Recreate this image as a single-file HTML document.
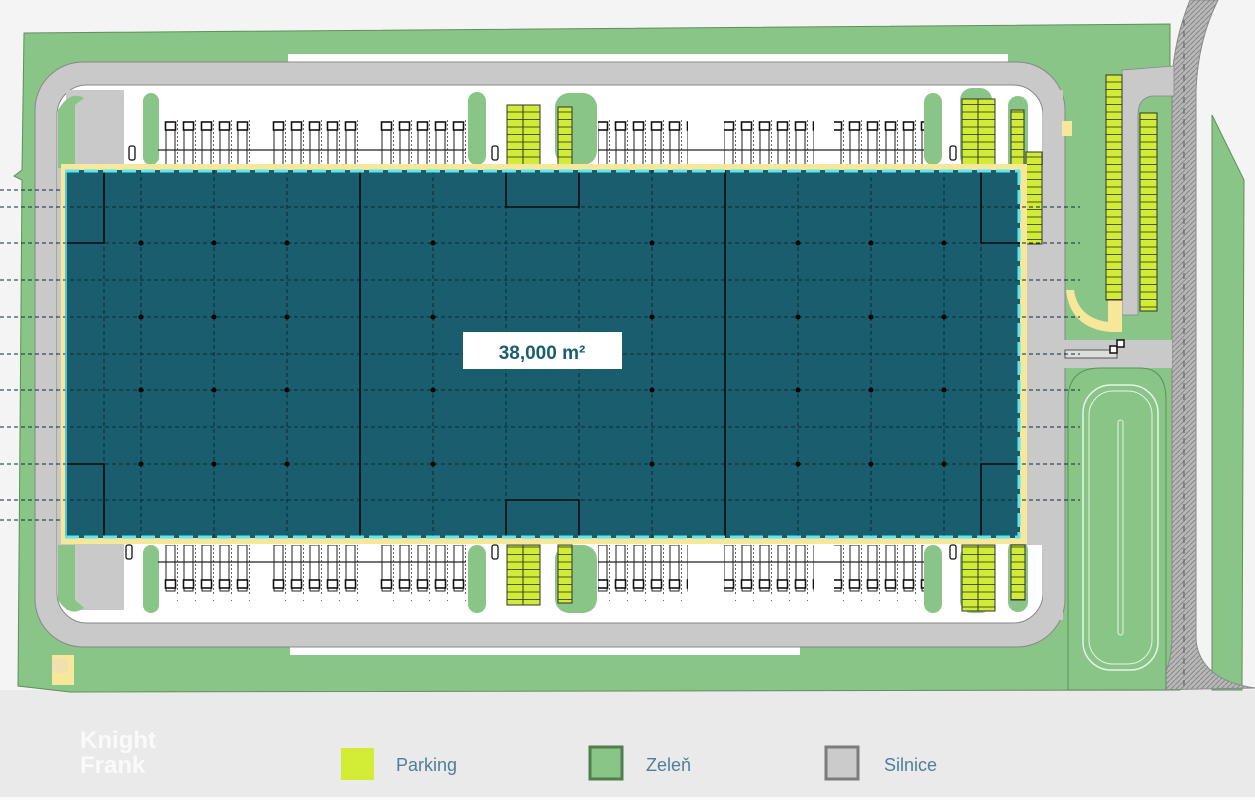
<!DOCTYPE html>
<html><head><meta charset="utf-8"><style>
html,body{margin:0;padding:0;background:#ececec;}
svg{display:block;}
</style></head><body>
<svg width="1255" height="800" viewBox="0 0 1255 800" xmlns="http://www.w3.org/2000/svg">
<defs>
<pattern id="dock" width="18" height="60" patternUnits="userSpaceOnUse">
<rect x="4" y="4" width="9" height="46" fill="#fff" stroke="#222" stroke-width="1"/>
<rect x="3.5" y="2" width="10" height="8" fill="#fff" stroke="#111" stroke-width="1.6"/>
<line x1="15.5" y1="0" x2="15.5" y2="50" stroke="#666" stroke-dasharray="2,2"/>
</pattern>
<pattern id="dockb" width="18" height="60" patternUnits="userSpaceOnUse">
<rect x="4" y="5" width="9" height="46" fill="#fff" stroke="#222" stroke-width="1"/>
<rect x="3.5" y="40" width="10" height="8" fill="#fff" stroke="#111" stroke-width="1.6"/>
<line x1="15.5" y1="0" x2="15.5" y2="55" stroke="#666" stroke-dasharray="2,2"/>
</pattern>
<pattern id="park" width="16" height="7.5" patternUnits="userSpaceOnUse">
<rect width="16" height="7.5" fill="#d2ea38"/>
<line x1="0" y1="7" x2="16" y2="7" stroke="#4a5a10" stroke-width="1"/>
</pattern>
<pattern id="hatch" width="5" height="5" patternUnits="userSpaceOnUse">
<rect width="5" height="5" fill="#b8b8b8"/>
<path d="M0 5 L5 0" stroke="#888" stroke-width="1"/>
</pattern>
</defs>
<rect width="1255" height="800" fill="#f4f4f4"/>
<rect y="690" width="1255" height="110" fill="#eaeaea"/>
<!-- outer green -->
<path d="M24 33 L1170 24 L1170 72 L1180 72 L1180 690 L70 692 L18 686 L22 180 L14 176 L22 170 Z" fill="#88c586" stroke="#5f8f5c" stroke-width="1"/>
<rect x="288" y="54" width="720" height="8" fill="#fff"/>
<rect x="290" y="647" width="510" height="8" fill="#fff"/>
<!-- right green strip -->
<path d="M1212 115 L1244 180 L1242 690 L1212 690 Z" fill="#88c586" stroke="#5f8f5c"/>
<!-- highway hatched -->
<path d="M1190 0 L1218 0 Q1198 40 1196 90 L1196 640 Q1200 680 1255 688 L1150 690 Q1170 680 1172 640 L1172 80 Q1174 40 1190 0 Z" fill="url(#hatch)" stroke="#888"/>
<line x1="1184" y1="20" x2="1184" y2="690" stroke="#555" stroke-dasharray="6,5"/>
<!-- ring road -->
<rect x="35" y="62" width="1030" height="585" rx="48" fill="#c9c9c9" stroke="#888" stroke-width="1"/>
<rect x="57" y="85" width="986" height="538" rx="30" fill="#fff" stroke="#888" stroke-width="1"/>
<!-- left/right gray apron -->
<rect x="58" y="165" width="8" height="380" fill="#c9c9c9"/>
<rect x="1024" y="165" width="19" height="380" fill="#c9c9c9"/>
<rect x="1043" y="90" width="20" height="530" fill="#c9c9c9"/>
<rect x="66" y="90" width="58" height="78" fill="#c9c9c9"/>
<rect x="66" y="540" width="58" height="70" fill="#c9c9c9"/>
<!-- green islands -->
<path d="M58 110 Q70 90 84 98 L75 105 L75 168 L58 168 Z" fill="#88c586"/>
<path d="M58 545 L75 545 L75 600 L84 608 Q70 618 58 600 Z" fill="#88c586"/>
<rect x="143" y="93" width="16" height="72" rx="8" fill="#88c586"/>
<rect x="143" y="545" width="16" height="68" rx="8" fill="#88c586"/>
<rect x="468" y="92" width="18" height="73" rx="9" fill="#88c586"/>
<rect x="468" y="545" width="18" height="68" rx="9" fill="#88c586"/>
<rect x="555" y="93" width="42" height="72" rx="14" fill="#88c586"/>
<rect x="555" y="545" width="42" height="68" rx="14" fill="#88c586"/>
<rect x="924" y="93" width="18" height="72" rx="9" fill="#88c586"/>
<rect x="924" y="545" width="18" height="68" rx="9" fill="#88c586"/>
<rect x="960" y="88" width="32" height="80" rx="12" fill="#88c586"/>
<rect x="960" y="545" width="32" height="68" rx="12" fill="#88c586"/>
<rect x="1008" y="96" width="20" height="110" rx="10" fill="#88c586"/>
<rect x="1008" y="540" width="20" height="72" rx="10" fill="#88c586"/>
<!-- right area beyond ring -->
<path d="M1122 70 L1174 66 L1174 96 L1152 96 Q1138 98 1138 115 L1138 315 L1122 315 Z" fill="#c9c9c9" stroke="#888" stroke-width="0.8"/>
<path d="M1066 290 Q1070 328 1110 332 L1122 332 L1122 298 L1108 298 L1108 322 Q1078 318 1074 290 Z" fill="#f7e79a"/>
<rect x="1062" y="121" width="10" height="15" fill="#f7e79a"/>
<rect x="1062" y="340" width="110" height="28" fill="#c9c9c9"/>
<rect x="1065" y="350" width="52" height="8" fill="#ddd" stroke="#555"/>
<rect x="1110" y="346" width="7" height="7" fill="#fff" stroke="#111" stroke-width="1.5"/>
<rect x="1117" y="340" width="7" height="7" fill="#fff" stroke="#111" stroke-width="1.5"/>
<!-- pond -->
<path d="M1068 400 Q1068 368 1100 368 L1140 368 Q1166 368 1166 400 L1166 690 L1068 690 Z" fill="#88c586" stroke="#5f8f5c"/>
<rect x="1083" y="385" width="75" height="285" rx="28" fill="none" stroke="#e7f3e5" stroke-width="1.5"/>
<rect x="1089" y="391" width="63" height="273" rx="24" fill="none" stroke="#e7f3e5" stroke-width="1"/>
<rect x="1118" y="420" width="5" height="215" rx="2.5" fill="none" stroke="#e7f3e5"/>
<!-- parking -->
<rect x="507" y="105" width="33" height="60" fill="url(#park)" stroke="#333"/>
<line x1="523" y1="105" x2="523" y2="165" stroke="#333"/>
<rect x="558" y="107" width="14" height="58" fill="url(#park)" stroke="#333"/>
<rect x="962" y="99" width="33" height="66" fill="url(#park)" stroke="#333"/>
<line x1="978" y1="99" x2="978" y2="165" stroke="#333"/>
<rect x="1011" y="110" width="13" height="55" fill="url(#park)" stroke="#333"/>
<rect x="1026" y="152" width="16" height="92" fill="url(#park)" stroke="#333"/>
<rect x="507" y="545" width="33" height="60" fill="url(#park)" stroke="#333"/>
<line x1="523" y1="545" x2="523" y2="605" stroke="#333"/>
<rect x="558" y="545" width="14" height="58" fill="url(#park)" stroke="#333"/>
<rect x="962" y="545" width="33" height="66" fill="url(#park)" stroke="#333"/>
<line x1="978" y1="545" x2="978" y2="611" stroke="#333"/>
<rect x="1011" y="545" width="14" height="55" fill="url(#park)" stroke="#333"/>
<rect x="1106" y="75" width="16" height="225" fill="url(#park)" stroke="#333"/>
<rect x="1140" y="113" width="17" height="198" fill="url(#park)" stroke="#333"/>
<!-- docks top -->
<g>
<rect x="160" y="113" width="90" height="52" fill="url(#dock)"/>
<rect x="268" y="113" width="90" height="52" fill="url(#dock)"/>
<rect x="376" y="113" width="90" height="52" fill="url(#dock)"/>
<rect x="598" y="113" width="90" height="52" fill="url(#dock)"/>
<rect x="724" y="113" width="90" height="52" fill="url(#dock)"/>
<rect x="834" y="113" width="90" height="52" fill="url(#dock)"/>
<line x1="158" y1="150" x2="466" y2="150" stroke="#222" stroke-width="1.2"/>
<line x1="598" y1="150" x2="924" y2="150" stroke="#222" stroke-width="1.2"/>
</g>
<g>
<rect x="160" y="545" width="90" height="56" fill="url(#dockb)"/>
<rect x="268" y="545" width="90" height="56" fill="url(#dockb)"/>
<rect x="376" y="545" width="90" height="56" fill="url(#dockb)"/>
<rect x="598" y="545" width="90" height="56" fill="url(#dockb)"/>
<rect x="724" y="545" width="90" height="56" fill="url(#dockb)"/>
<rect x="834" y="545" width="90" height="56" fill="url(#dockb)"/>
<line x1="158" y1="562" x2="466" y2="562" stroke="#222" stroke-width="1.2"/>
<line x1="598" y1="562" x2="924" y2="562" stroke="#222" stroke-width="1.2"/>
</g>
<rect x="129" y="146" width="6" height="14" rx="2" fill="#fff" stroke="#111" stroke-width="1.3"/>
<rect x="492" y="146" width="6" height="14" rx="2" fill="#fff" stroke="#111" stroke-width="1.3"/>
<rect x="950" y="146" width="6" height="14" rx="2" fill="#fff" stroke="#111" stroke-width="1.3"/>
<rect x="126" y="545" width="6" height="14" rx="2" fill="#fff" stroke="#111" stroke-width="1.3"/>
<rect x="492" y="545" width="6" height="14" rx="2" fill="#fff" stroke="#111" stroke-width="1.3"/>
<rect x="950" y="545" width="6" height="14" rx="2" fill="#fff" stroke="#111" stroke-width="1.3"/>
<!-- yellow border around building -->
<rect x="61" y="164" width="966" height="380" fill="#f7e79a"/>
<!-- building -->
<rect x="65" y="170" width="955" height="368" fill="#1a5d6e"/>
<g stroke="#0b2a33" stroke-width="1" stroke-dasharray="4,3">
<line x1="141" y1="170" x2="141" y2="538"/><line x1="214" y1="170" x2="214" y2="538"/><line x1="287" y1="170" x2="287" y2="538"/>
<line x1="433" y1="170" x2="433" y2="538"/><line x1="506" y1="170" x2="506" y2="538"/><line x1="579" y1="170" x2="579" y2="538"/><line x1="652" y1="170" x2="652" y2="538"/>
<line x1="798" y1="170" x2="798" y2="538"/><line x1="871" y1="170" x2="871" y2="538"/><line x1="944" y1="170" x2="944" y2="538"/>
<line x1="104" y1="170" x2="104" y2="538"/><line x1="981" y1="170" x2="981" y2="538"/>
<line x1="0" y1="207" x2="1080" y2="207"/><line x1="0" y1="243" x2="1080" y2="243"/><line x1="0" y1="280" x2="1080" y2="280"/><line x1="0" y1="317" x2="1080" y2="317"/>
<line x1="0" y1="354" x2="1080" y2="354"/><line x1="0" y1="390" x2="1080" y2="390"/><line x1="0" y1="427" x2="1080" y2="427"/><line x1="0" y1="464" x2="1080" y2="464"/><line x1="0" y1="500" x2="1080" y2="500"/>
<line x1="0" y1="190" x2="60" y2="190"/><line x1="0" y1="520" x2="60" y2="520"/>
</g>
<g stroke="#0a0a0a" stroke-width="1.6" fill="none">
<line x1="360" y1="170" x2="360" y2="538"/><line x1="725" y1="170" x2="725" y2="538"/>
<path d="M65 243 L104 243 L104 170"/><path d="M65 464 L104 464 L104 538"/>
<path d="M1020 243 L981 243 L981 170"/><path d="M1020 464 L981 464 L981 538"/>
<path d="M506 170 L506 207 L579 207 L579 170"/><path d="M506 538 L506 500 L579 500 L579 538"/>
</g>
<g fill="#000">
<circle cx="141" cy="243" r="2.5"/><circle cx="214" cy="243" r="2.5"/><circle cx="287" cy="243" r="2.5"/><circle cx="433" cy="243" r="2.5"/><circle cx="652" cy="243" r="2.5"/><circle cx="798" cy="243" r="2.5"/><circle cx="871" cy="243" r="2.5"/><circle cx="944" cy="243" r="2.5"/>
<circle cx="141" cy="317" r="2.5"/><circle cx="214" cy="317" r="2.5"/><circle cx="287" cy="317" r="2.5"/><circle cx="433" cy="317" r="2.5"/><circle cx="652" cy="317" r="2.5"/><circle cx="798" cy="317" r="2.5"/><circle cx="871" cy="317" r="2.5"/><circle cx="944" cy="317" r="2.5"/>
<circle cx="141" cy="390" r="2.5"/><circle cx="214" cy="390" r="2.5"/><circle cx="287" cy="390" r="2.5"/><circle cx="433" cy="390" r="2.5"/><circle cx="652" cy="390" r="2.5"/><circle cx="798" cy="390" r="2.5"/><circle cx="871" cy="390" r="2.5"/><circle cx="944" cy="390" r="2.5"/>
<circle cx="141" cy="464" r="2.5"/><circle cx="214" cy="464" r="2.5"/><circle cx="287" cy="464" r="2.5"/><circle cx="433" cy="464" r="2.5"/><circle cx="652" cy="464" r="2.5"/><circle cx="798" cy="464" r="2.5"/><circle cx="871" cy="464" r="2.5"/><circle cx="944" cy="464" r="2.5"/>
</g>
<g stroke="#5ee6f0" stroke-width="3" stroke-dasharray="14,5" fill="none">
<line x1="65" y1="171" x2="1020" y2="171"/><line x1="65" y1="537" x2="1020" y2="537"/>
<line x1="1019" y1="171" x2="1019" y2="537"/>
</g>
<line x1="66" y1="171" x2="66" y2="537" stroke="#5ee6f0" stroke-width="1.5"/>
<!-- label -->
<rect x="463" y="332" width="159" height="37" fill="#fff"/>
<text x="542" y="359" text-anchor="middle" font-family="'Liberation Sans',sans-serif" font-weight="bold" font-size="19" fill="#1a5d6e">38,000 m²</text>
<!-- yellow small at bottom left -->
<rect x="52" y="655" width="22" height="30" fill="#f7e79a"/>
<rect x="52" y="659" width="16" height="14" fill="#f0e0b0"/>
<!-- watermark -->
<text x="80" y="748" font-family="'Liberation Sans',sans-serif" font-weight="bold" font-size="24" fill="#fafafa">Knight</text>
<text x="80" y="773" font-family="'Liberation Sans',sans-serif" font-weight="bold" font-size="24" fill="#fafafa">Frank</text>
<!-- legend -->
<rect x="341" y="748" width="33" height="32" fill="#d3ec36"/>
<text x="396" y="771" font-family="'Liberation Sans',sans-serif" font-size="18" fill="#4d7f9a">Parking</text>
<rect x="590" y="747" width="32" height="32" fill="#88c586" stroke="#4f7f4c" stroke-width="3"/>
<text x="646" y="771" font-family="'Liberation Sans',sans-serif" font-size="18" fill="#4d7f9a">Zeleň</text>
<rect x="826" y="747" width="32" height="32" fill="#cbcbcb" stroke="#7c7c7c" stroke-width="3"/>
<text x="884" y="771" font-family="'Liberation Sans',sans-serif" font-size="18" fill="#4d7f9a">Silnice</text>
<rect y="797" width="1255" height="3" fill="#fafafa"/>
</svg>
</body></html>
